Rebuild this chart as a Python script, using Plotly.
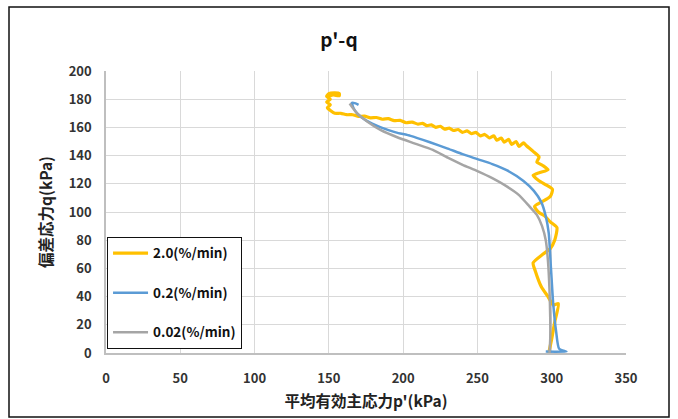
import plotly.graph_objects as go

# 2.0 (%/min)
p_20 = [298, 300, 302, 304.5, 301, 297.5, 293, 289, 287.5, 294, 299, 302, 303.5, 299, 295.5, 291, 288.5,
        293, 299, 300.5, 296.5, 291, 287.5, 292, 297.5, 294, 290, 291.5, 287.5, 283,
        281, 278, 276, 273, 271, 268, 266, 263, 261, 258, 255, 252, 249, 246, 243, 240, 237, 234, 231,
        228, 225, 222, 219, 216, 213, 210, 206, 202, 198, 194, 190, 186, 182, 178, 174, 170, 166, 162,
        158, 154, 151, 149, 151, 148.5, 151, 148.5, 150, 154, 157, 157, 153, 150]
q_20 = [0, 10, 22, 35, 34, 40, 47, 58, 64, 70, 74, 80, 89, 93, 97, 100, 104,
        107, 111, 116, 119, 122.5, 126, 128, 130, 133, 135.5, 139, 143, 147,
        149, 146.5, 150, 148, 151.5, 149.5, 152.5, 151, 154, 152.5, 155, 154, 156.5, 155.5, 157.5, 156.5, 158.5, 157.8, 159.5,
        158.8, 160.8, 160, 161.8, 161.3, 162.8, 162.3, 163.8, 163.3, 165, 164.8, 166.2, 165.8, 167, 166.8, 168, 167.8, 169, 169,
        170, 170, 172, 174, 176, 178, 180, 182, 184, 184.5, 184, 182.5, 183, 182]

# 0.2 (%/min)
p_02 = [296, 310, 305, 303, 301, 299.5, 298, 296, 293, 288, 281, 270, 260, 250, 240, 230, 218, 205, 195,
        185, 175, 169, 166.5, 165.5, 168, 170]
q_02 = [1, 1, 3, 15, 35, 60, 85, 97, 107, 115, 122, 129.5, 134, 137.5, 141, 145, 149.5, 154, 156.5,
        160, 165, 170, 174, 177.5, 177, 176]

# 0.02 (%/min)
p_002 = [298.5, 299, 299, 298.5, 297.5, 296, 293.5, 290, 285, 278, 270, 260, 250, 240, 230, 220, 208,
         196, 185, 176, 170, 166, 164]
q_002 = [0, 10, 25, 45, 65, 80, 90, 98, 104, 112, 118, 124, 129, 133.5, 138.5, 144, 148.5,
         153, 158, 164, 169, 174, 177]

names = ["2.0(%/min)", "0.2(%/min)", "0.02(%/min)"]
colors = ["#FFC000", "#5B9BD5", "#A5A5A5"]

x_ticks = [0, 50, 100, 150, 200, 250, 300, 350]
y_ticks = [0, 20, 40, 60, 80, 100, 120, 140, 160, 180, 200]

FONT = "Noto Sans CJK JP, Open Sans, sans-serif"

fig = go.Figure()
for i, (px, qy, w) in enumerate([(p_20, q_20, 3.2), (p_02, q_02, 2.5), (p_002, q_002, 2.5)]):
    fig.add_trace(go.Scatter(x=px, y=qy, mode="lines", name=names[i],
                             legendgroup=str(i),
                             line=dict(color=colors[i], width=w, shape="spline", smoothing=0.6)))

fig.update_layout(
    width=678, height=419,
    margin=dict(l=106, r=52, t=71, b=66),
    paper_bgcolor="white", plot_bgcolor="white",
    font=dict(family=FONT, color="#333333"),
    title=dict(text="p'-q", x=0.5, xref="container", y=1 - 40 / 419, yref="container",
               xanchor="center", yanchor="middle",
               font=dict(size=19, weight="bold", color="#111111")),
    showlegend=True,
    legend=dict(x=0.002, y=0.412, xanchor="left", yanchor="top",
                bgcolor="white", bordercolor="#111111", borderwidth=1,
                font=dict(size=13.5, weight="bold", color="#111111"),
                traceorder="grouped", tracegroupgap=19, itemwidth=35,
                entrywidth=98),
    shapes=[dict(type="rect", xref="paper", yref="paper",
                 x0=(9 - 106) / 520, x1=(669 - 106) / 520,
                 y0=(353 - 417) / 282, y1=(353 - 7) / 282,
                 line=dict(color="#111111", width=1.5), layer="below")],
)
fig.update_xaxes(range=[0, 350], tickvals=x_ticks, showgrid=True, gridcolor="#d9d9d9", gridwidth=1,
                 showline=True, linecolor="#bfbfbf", linewidth=1.5, zeroline=False,
                 ticks="", ticklabelstandoff=13,
                 tickfont=dict(size=13, weight="bold", color="#333333"),
                 title=dict(text="平均有効主応力p'(kPa)", standoff=10,
                            font=dict(size=15.5, weight="bold", color="#222222")))
fig.update_yaxes(range=[0, 200], tickvals=y_ticks, showgrid=True, gridcolor="#d9d9d9", gridwidth=1,
                 showline=True, linecolor="#bfbfbf", linewidth=1.5, zeroline=False,
                 ticks="", ticklabelstandoff=10,
                 tickfont=dict(size=13, weight="bold", color="#333333"),
                 title=dict(text="偏差応力q(kPa)", standoff=12,
                            font=dict(size=15.5, weight="bold", color="#222222")))

fig.write_html("out.html")
